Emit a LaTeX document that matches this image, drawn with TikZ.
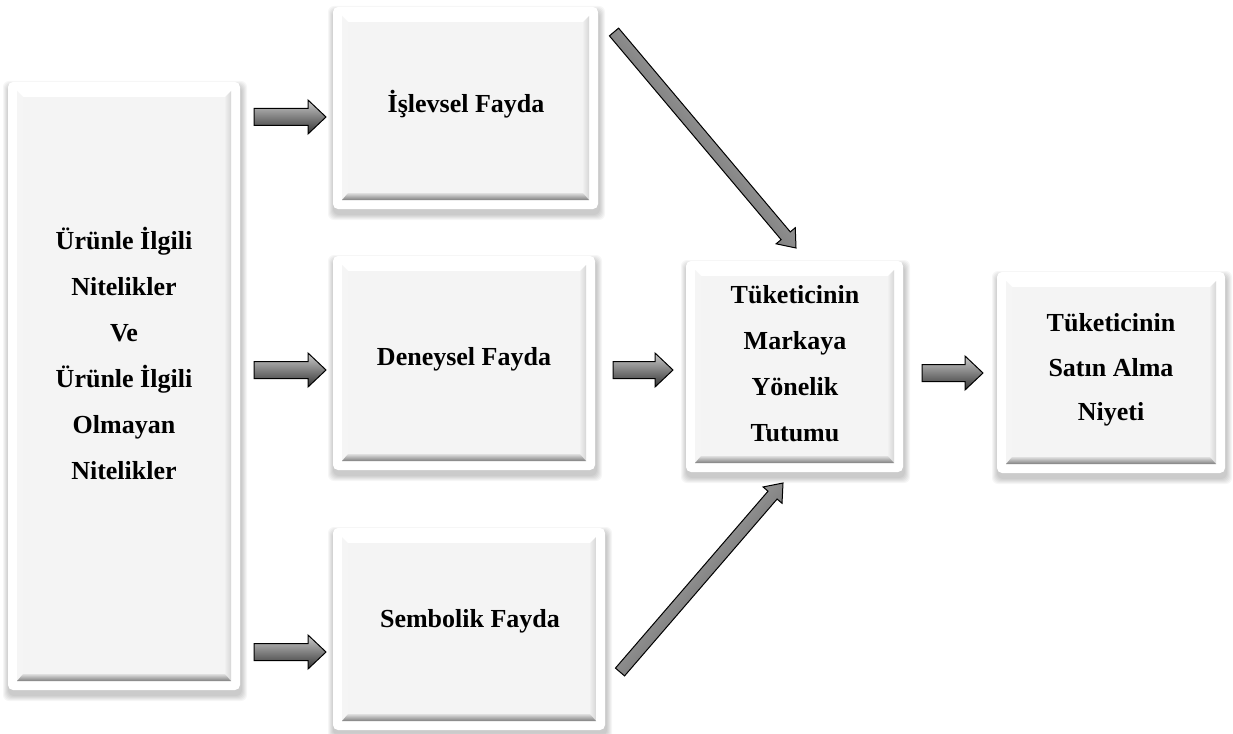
\documentclass[tikz,border=0pt]{standalone}
\usepackage{fontspec}
\setmainfont{Liberation Serif}
\usetikzlibrary{calc}
\definecolor{facecol}{HTML}{F4F4F4}
\tikzset{
  outerbox/.style={fill=white, rounded corners=5pt, inner sep=0pt, outer sep=0pt},
  txt/.style={font=\fontsize{26}{46}\selectfont\bfseries, align=center, inner sep=0pt},
  arrowfill/.style={draw=black, line width=1pt, line join=miter, top color=gray!40, bottom color=black!80},
  arrowshadow/.style={fill=black, opacity=0.15},
}
\newcommand\panelbox[5]{%
  \foreach \i in {1,...,6}{\fill[black, opacity=0.035, rounded corners=6pt] (#2-\i+1,#3-\i+5) rectangle (#4+\i+1,#5+\i+5);}
  \node[outerbox, anchor=north west, minimum width=#4pt-#2pt, minimum height=#5pt-#3pt] (#1) at (#2,#3) {};
  \coordinate (#1-tl) at ($(#1.north west)+(9,9)$);
  \coordinate (#1-br) at ($(#1.south east)+(-9,-9)$);
  \coordinate (#1-tr) at (#1-br |- #1-tl);
  \coordinate (#1-bl) at (#1-tl |- #1-br);
  \coordinate (#1-itl) at ($(#1-tl)+(6,6)$);
  \coordinate (#1-ibr) at ($(#1-br)+(-6,-7)$);
  \coordinate (#1-itr) at (#1-ibr |- #1-itl);
  \coordinate (#1-ibl) at (#1-itl |- #1-ibr);
  \fill[white] (#1-tl) -- (#1-tr) -- (#1-itr) -- (#1-itl) -- cycle;
  \fill[gray!8] (#1-tl) -- (#1-itl) -- (#1-ibl) -- (#1-bl) -- cycle;
  \shade[left color=gray!12, right color=gray!32] (#1-tr) -- (#1-br) -- (#1-ibr) -- (#1-itr) -- cycle;
  \shade[top color=gray!25, bottom color=black!50] (#1-bl) -- (#1-ibl) -- (#1-ibr) -- (#1-br) -- cycle;
  \fill[facecol] (#1-itl) rectangle (#1-ibr);
}
\newcommand\blockarrow[6][]{%
  \coordinate (hb) at ($(#3)!#6!(#2)$);
  \fill[arrowshadow, shift={(2pt,-3pt)}] ($(#2)!#4!90:(#3)$) -- ($(hb)!#4!90:(#3)$) -- ($(hb)!#5!90:(#3)$) -- (#3) -- ($(hb)!#5!-90:(#3)$) -- ($(hb)!#4!-90:(#3)$) -- ($(#2)!#4!-90:(#3)$) -- cycle;
  \draw[arrowfill,#1] ($(#2)!#4!90:(#3)$) -- ($(hb)!#4!90:(#3)$) -- ($(hb)!#5!90:(#3)$) -- (#3) -- ($(hb)!#5!-90:(#3)$) -- ($(hb)!#4!-90:(#3)$) -- ($(#2)!#4!-90:(#3)$) -- cycle;
}
\begin{document}
\begin{tikzpicture}[x=1pt, y=-1pt]
\useasboundingbox (0,0) rectangle (1233,733);
\fill[white] (0,0) rectangle (1233,733);

\panelbox{L}{8}{82}{240}{690}
\panelbox{B1}{333}{7}{598}{209}
\panelbox{B2}{333}{256}{595}{470}
\panelbox{B3}{333}{528}{605}{730}
\panelbox{B4}{686}{261}{903}{472}
\panelbox{B5}{997}{272}{1225}{473}

\node[txt] (tL) at (124,353) {Ürünle İlgili\\Nitelikler\\Ve\\Ürünle İlgili\\Olmayan\\Nitelikler};
\node[txt] (t1) at (466,104) {İşlevsel Fayda};
\node[txt] (t2) at (464,359) {Deneysel Fayda};
\node[txt] (t3) at (470,621) {Sembolik Fayda};
\node[txt] (t4) at (795,364) {Tüketicinin\\Markaya\\Yönelik\\Tutumu};
\node[txt, font=\fontsize{26}{44.5}\selectfont\bfseries] (t5) at (1111,370) {Tüketicinin\\Satın Alma\\Niyeti};

\coordinate (a1s) at (254,117); \coordinate (a1e) at (326,117);
\coordinate (a2s) at (254,370); \coordinate (a2e) at (326,370);
\coordinate (a3s) at (254,652); \coordinate (a3e) at (326,652);
\coordinate (a4s) at (613,370); \coordinate (a4e) at (673,370);
\coordinate (a5s) at (922,373); \coordinate (a5e) at (983,373);
\coordinate (d1s) at (614,32);  \coordinate (d1e) at (796,248);
\coordinate (d2s) at (620,672); \coordinate (d2e) at (783,483);

\blockarrow{a1s}{a1e}{8.5pt}{17pt}{18pt}
\blockarrow{a2s}{a2e}{8.5pt}{17pt}{18pt}
\blockarrow{a3s}{a3e}{8.5pt}{17pt}{18pt}
\blockarrow{a4s}{a4e}{8.5pt}{17pt}{18pt}
\blockarrow{a5s}{a5e}{8.5pt}{17pt}{18pt}
\blockarrow[top color=gray!45, bottom color=black!70, shading angle=-50]{d1s}{d1e}{6pt}{12.5pt}{16pt}
\blockarrow[top color=gray!45, bottom color=black!70, shading angle=49]{d2s}{d2e}{6pt}{12.5pt}{16pt}
\end{tikzpicture}
\end{document}
